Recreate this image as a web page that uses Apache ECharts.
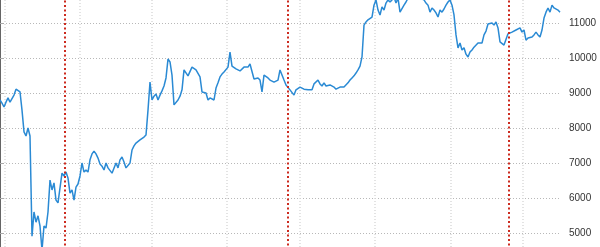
<!DOCTYPE html>
<html>
<head>
<meta charset="utf-8">
<script src="https://cdn.jsdelivr.net/npm/echarts@6/dist/echarts.min.js"></script>
<style>
html,body{margin:0;padding:0;background:#fff;}
#chart{width:600px;height:247px;}
</style>
</head>
<body>
<div id="chart"></div>
<script>
// Daily index values (trading-day index 0..280)
const values = [
8800,8710,8600,8740,8860,8740,8770,8940,9110,9140,
9030,8510,7890,7770,8000,7770,4910,5600,5310,5490,
5200,4510,5200,5140,5600,6510,6230,6430,5940,5860,
6290,6710,6630,6740,6570,6140,6230,5940,6310,6400,
6630,7000,6740,6800,6740,7090,7260,7340,7260,7140,
6970,6910,6800,7000,6860,6910,6710,6740,7000,6860,
7090,7170,7030,6860,6830,7000,7370,7490,7570,7600,
7660,7690,7740,7800,8510,9310,8800,8910,8970,8800,
8940,9060,9200,9430,9970,9890,9510,8660,8710,8800,
8910,9090,9660,9660,9490,9540,9740,9770,9660,9710,
9460,9030,9060,9000,8800,8860,8890,8800,9140,9290,
9460,9540,9600,9570,9740,10170,9770,9800,9690,9710,
9630,9600,9740,9710,9740,9830,9860,9400,9430,9430,
9370,9030,9510,9460,9430,9370,9340,9310,9310,9370,
9660,9660,9370,9230,9200,9090,9140,8940,9090,9140,
9170,9200,9110,9140,9090,9060,9090,9260,9290,9370,
9260,9200,9290,9200,9230,9230,9200,9170,9110,9140,
9170,9170,9170,9200,9290,9370,9430,9490,9570,9660,
9770,10030,10940,11030,11090,11110,11170,11510,11660,11370,
11230,11460,11370,11570,11660,11600,11660,11740,11570,11710,
11310,11290,11510,11600,11710,11770,11740,11800,11740,11800,
11710,11740,11660,11570,11510,11310,11430,11370,11290,11170,
11370,11310,11400,11510,11600,11660,11510,11230,10660,10290,
10430,10230,10290,10110,10030,10170,10230,10310,10310,10430,
10460,10430,10660,10770,10970,10940,11000,10940,11030,10860,
10460,10460,10370,10340,10690,10660,10740,10770,10800,10770,
10860,10740,10800,10510,10570,10570,10600,10660,10740,10660,
10600,10800,11140,11310,11430,11310,11510,11430,11460,11370,
11310
];
// Vertical gridline positions (day index) and event markers
const gridDays = [2.5, 40, 76, 113.5, 150, 187.5, 225.5, 261.5];
const eventDays = [32.5, 144, 254.5];
const yTicks = { min: 4000, max: 12000, interval: 1000 };

const seriesData = values.map((v, i) => [i, v]);

const chart = echarts.init(document.getElementById('chart'), null, {renderer: 'canvas'});
chart.setOption({
  animation: false,
  backgroundColor: '#ffffff',
  grid: { left: 0, right: 40, top: -12, bottom: -21, containLabel: false, outerBoundsMode: 'none' },
  xAxis: {
    type: 'value', min: 0, max: values.length - 1,
    axisLine: {show: false}, axisTick: {show: false}, axisLabel: {show: false},
    splitLine: {show: false}
  },
  yAxis: {
    type: 'value', position: 'right',
    min: yTicks.min, max: yTicks.max, interval: yTicks.interval,
    axisLine: {show: true, lineStyle: {color: '#666', width: 1}},
    axisTick: {show: true, length: 4, lineStyle: {color: '#aaa'}},
    axisLabel: {color: '#333', fontSize: 10, fontFamily: 'Liberation Sans, Arial, sans-serif', margin: 9,
      formatter: v => String(v)},
    splitLine: {show: true, lineStyle: {color: '#b8b8b8', type: [1, 2], width: 1}}
  },
  series: [
    {
      type: 'line', data: [], silent: true, z: 1,
      markLine: {
        silent: true, symbol: 'none', z: 1, animation: false,
        label: {show: false},
        lineStyle: {color: '#dadada', type: [1, 2], width: 1.5},
        data: gridDays.map(d => ({xAxis: d}))
      }
    },
    {
      type: 'line', data: seriesData, showSymbol: false, symbol: 'none', z: 3,
      lineStyle: {color: '#2a8ad4', width: 1.5},
      markLine: {
        silent: true, symbol: 'none', z: 4, animation: false,
        label: {show: false},
        lineStyle: {color: '#cc2a1e', type: [2, 2.5], width: 2},
        data: eventDays.map(d => ({xAxis: d}))
      }
    }
  ]
});
</script>
</body>
</html>
